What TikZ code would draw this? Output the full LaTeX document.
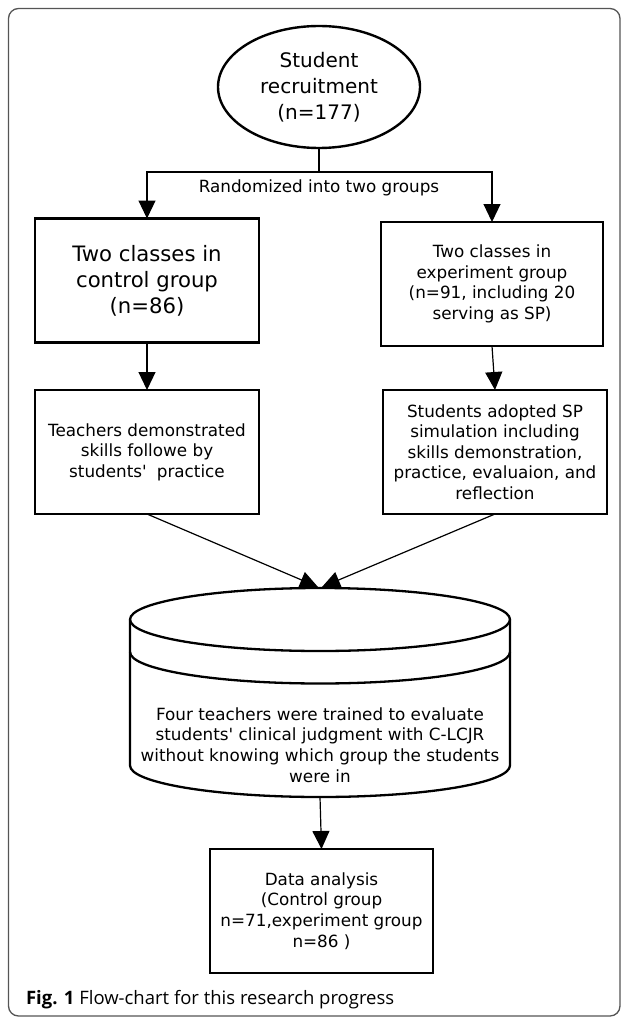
\documentclass[tikz,border=0pt]{standalone}
\usepackage{fontspec}
\setmainfont{DejaVu Sans}
\newfontfamily\capfont{Open Sans}
\usetikzlibrary{shapes.geometric,arrows.meta}
\definecolor{framegray}{HTML}{555555}
\newcommand\txtS{\fontsize{16.8}{20.6}\selectfont}
\newcommand\txtL{\fontsize{21.2}{26}\selectfont}
\newcommand\txtE{\fontsize{20}{26}\selectfont}
\newcommand\apos{\textquotesingle}
\begin{document}
\begin{tikzpicture}[x=1pt,y=-1pt,
  every node/.style={inner sep=0pt, outer sep=0pt},
  box/.style={draw, rectangle, align=center, line width=2.6pt, minimum width=224pt, minimum height=124pt, font=\txtS},
  bigbox/.style={box, font=\txtL},
  thinbox/.style={box, line width=2.3pt},
  oval/.style={draw, ellipse, align=center, line width=2.4pt, minimum width=202pt, minimum height=122pt, font=\txtE},
  conn/.style={line width=1.2pt},
  arr/.style={conn, -{Triangle[length=18pt,width=17pt]}},
  cylline/.style={line width=2.3pt},
  lbl/.style={align=center, font=\txtS}
]
\useasboundingbox (0,0) rectangle (627,1019);
\draw[framegray, line width=1.3pt, rounded corners=10pt] (8.5,8.5) rectangle (620,1016);

\node[oval] (rec) at (319,87) {Student\\recruitment\\(n=177)};
\coordinate (split) at (319,172);
\node[lbl] (rand) at (319,188) {Randomized into two groups};

\node[bigbox, minimum height=124pt] (c1) at (147,280.5) {Two classes in\\control group\\(n=86)};
\node[box, minimum width=222pt] (e1) at (492,284) {Two classes in\\experiment group\\(n=91, including 20\\serving as SP)};

\node[box] (c2) at (147,452) {Teachers demonstrated\\skills followe by\\students\apos\hspace{0.6em}practice};
\node[box] (e2) at (495,452) {Students adopted SP\\simulation including\\skills demonstration,\\practice, evaluaion, and\\reflection};

\node[minimum width=380pt, minimum height=210pt] (cyl) at (320,692) {};
\draw[cylline] (130,619.5) -- (130,765.5) arc[start angle=180,end angle=0,x radius=190,y radius=31.5] -- (510,619.5);
\draw[cylline] (320,619.5) ellipse [x radius=190, y radius=31.5];
\draw[cylline] (130,652) arc[start angle=180,end angle=0,x radius=190,y radius=31.5];
\node[lbl] (cyltxt) at (320,745) {Four teachers were trained to evaluate\\students\apos{} clinical judgment with C-LCJR\\without knowing which group the students\\were in};

\node[thinbox, minimum width=223pt] (data) at (321.5,911) {Data analysis\\(Control group\\n=71,experiment group\\n=86 )};

\draw[conn] (rec.south) -- (split);
\draw[arr] (split) -| (c1.north);
\draw[arr] (split) -| (e1.north);
\draw[arr] (c1.south) -- (c2.north);
\draw[arr] (e1.south) -- (e2.north);
\draw[arr] (c2.south) -- ([xshift=-2pt]cyl.north);
\draw[arr] (e2.south) -- ([xshift=2pt]cyl.north);
\draw[arr] (cyl.south) -- (data.north);

\node[anchor=west] (cap) at (26,1000) {\capfont\fontsize{18.5}{22}\selectfont\textbf{Fig. 1} Flow-chart for this research progress};
\end{tikzpicture}
\end{document}
